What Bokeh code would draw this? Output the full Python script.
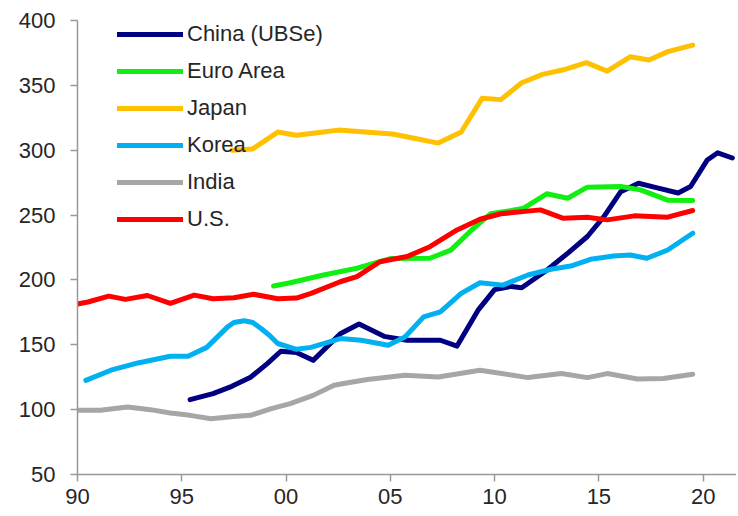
from bokeh.plotting import figure
from bokeh.models import Legend, LegendItem, FixedTicker, Range1d
from bokeh.embed import file_html
from bokeh.resources import INLINE

# ---- data ----
china_x = [1995.4, 1996.5, 1997.4, 1998.3, 1999.1, 1999.75, 2000.5, 2001.3, 2002.6, 2003.5,
           2004.7, 2005.8, 2007.4, 2008.2, 2009.2, 2010.0, 2010.8, 2011.3, 2012.5, 2013.5,
           2014.45, 2015.25, 2016.05, 2016.9, 2017.8, 2018.8, 2019.4, 2020.2, 2020.7, 2021.4]
china_y = [107.7, 112.4, 118, 125, 135.5, 145, 144, 138, 158.5, 166,
           156.5, 153.5, 153.5, 149, 176.5, 192.5, 195, 194, 207.5, 220.5,
           233.5, 249, 268, 274.5, 271, 267, 272, 292.5, 298, 294]

euro_x = [1999.4, 2000.2, 2001.8, 2003.4, 2005.0, 2006.9, 2007.9, 2008.9, 2009.8, 2010.8,
          2011.4, 2012.5, 2013.5, 2014.45, 2016.05, 2017.0, 2018.3, 2019.5]
euro_y = [195.3, 197.8, 203.8, 209, 216.5, 216.7, 223, 238.5, 251, 253.5,
          255.3, 266.4, 263, 271.5, 272, 269.4, 261.5, 261.2]

japan_x = [1997.4, 1998.4, 1999.6, 2000.5, 2001.5, 2002.5, 2003.8, 2005.1, 2006.2, 2007.3,
           2008.4, 2009.4, 2010.3, 2011.3, 2012.3, 2013.3, 2014.4, 2015.4, 2016.5, 2017.4,
           2018.3, 2019.5]
japan_y = [300, 301, 314, 311.5, 313.5, 315.5, 314, 312.5, 309, 305.5,
           314, 340, 339, 352, 358.5, 362, 367.5, 361, 372, 369.5,
           376, 381]

korea_x = [1990.4, 1991.6, 1992.9, 1994.45, 1995.3, 1996.2, 1997.2, 1997.5, 1998.0, 1998.4,
           1998.8, 1999.2, 1999.6, 2000.5, 2001.2, 2002.6, 2003.6, 2004.9, 2005.7, 2006.6,
           2007.4, 2008.4, 2009.3, 2010.4, 2011.6, 2012.7, 2013.65, 2014.6, 2015.7, 2016.5,
           2017.3, 2018.3, 2019.5]
korea_y = [122.6, 130.4, 136, 141.2, 141.2, 148, 163.8, 167.2, 168.5, 167.2,
           162.6, 157.4, 151, 146.5, 148, 154.8, 153.5, 149.7, 156, 171.5,
           175.4, 189.6, 197.8, 196, 203.8, 208.2, 210.7, 215.9, 218.4, 219.2,
           216.7, 223.1, 236]

india_x = [1990.0, 1991.1, 1992.4, 1993.5, 1994.45, 1995.4, 1996.4, 1997.5, 1998.3, 1999.3,
           2000.2, 2001.3, 2002.3, 2002.9, 2003.9, 2005.7, 2007.3, 2009.3, 2011.6, 2013.2,
           2014.45, 2015.4, 2016.85, 2018.1, 2019.5]
india_y = [99.5, 99.5, 102, 100, 97.4, 95.6, 93, 94.8, 95.6, 100.8,
           104.6, 111, 118.8, 120.5, 123.2, 126.5, 125.2, 130.4, 124.7, 127.8,
           124.7, 127.8, 123.6, 124, 127.3]

us_x = [1990.0, 1990.5, 1991.5, 1992.3, 1993.35, 1994.45, 1995.6, 1996.5, 1997.5, 1998.45,
        1999.6, 2000.5, 2001.2, 2002.6, 2003.4, 2004.5, 2005.8, 2006.9, 2008.2, 2009.3,
        2010.3, 2012.2, 2013.3, 2014.45, 2015.4, 2016.7, 2018.3, 2019.5]
us_y = [181.4, 183, 187.5, 185, 188, 182, 188.3, 185.5, 186.2, 188.9,
        185.5, 186, 189.6, 198.6, 202.5, 214, 218, 225.6, 238.5, 246.8,
        251, 254, 247.5, 248.3, 246.3, 249.4, 248.4, 253.5]

series_names = ["China (UBSe)", "Euro Area", "Japan", "Korea", "India", "U.S."]
series_x = [china_x, euro_x, japan_x, korea_x, india_x, us_x]
series_y = [china_y, euro_y, japan_y, korea_y, india_y, us_y]
colors = ["#000080", "#11ee11", "#FFC000", "#00B0F0", "#A6A6A6", "#FF0000"]

x_ticks = [1990, 1995, 2000, 2005, 2010, 2015, 2020]
x_tick_labels = ["90", "95", "00", "05", "10", "15", "20"]
y_ticks = [50, 100, 150, 200, 250, 300, 350, 400]

FONT = "Liberation Sans"
TXT = "#262626"
AX = "#999999"

p = figure(width=736, height=514, output_backend="svg", toolbar_location=None,
           x_range=Range1d(1990, 2021.6), y_range=Range1d(50, 400),
           min_border_left=77, min_border_top=20, min_border_right=0, min_border_bottom=40)
p.outline_line_color = None
p.xgrid.visible = False
p.ygrid.visible = False
p.background_fill_color = "white"
p.border_fill_color = "white"

renderers = []
for nm, xs, ys, c in zip(series_names, series_x, series_y, colors):
    r = p.line(xs, ys, line_color=c, line_width=5, line_cap="round", line_join="round")
    renderers.append(r)

for ax in (p.xaxis[0], p.yaxis[0]):
    ax.axis_line_color = AX
    ax.axis_line_width = 1.5
    ax.major_tick_line_color = AX
    ax.major_tick_line_width = 1.5
    ax.major_tick_out = 7
    ax.major_tick_in = 0
    ax.minor_tick_line_color = None
    ax.major_label_text_font = FONT
    ax.major_label_text_font_size = "22px"
    ax.major_label_text_color = TXT

p.xaxis[0].ticker = FixedTicker(ticks=x_ticks)
p.xaxis[0].major_label_overrides = {t: l for t, l in zip(x_ticks, x_tick_labels)}
p.xaxis[0].major_label_standoff = 7
p.yaxis[0].ticker = FixedTicker(ticks=y_ticks)
p.yaxis[0].major_label_standoff = 15

legend = Legend(items=[LegendItem(label=n, renderers=[r]) for n, r in zip(series_names, renderers)],
                location=(40, 242), orientation="vertical",
                glyph_width=66, glyph_height=20, label_height=20, spacing=11,
                label_standoff=4, padding=0, margin=0,
                label_text_font=FONT, label_text_font_size="22px", label_text_color=TXT,
                background_fill_alpha=0, border_line_color=None)
p.add_layout(legend, "center")

with open("out.html", "w") as f:
    f.write(file_html(p, INLINE))
